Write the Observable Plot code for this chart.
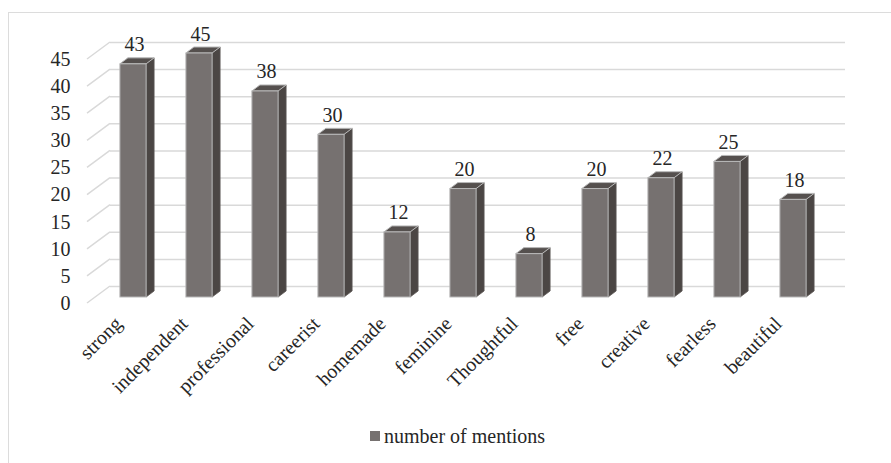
<!DOCTYPE html>
<html><head><meta charset="utf-8">
<script src="https://cdn.jsdelivr.net/npm/d3@7"></script>
<script src="https://cdn.jsdelivr.net/npm/@observablehq/plot@0.6"></script>
<style>
body{margin:0;background:#fff;width:891px;height:463px;overflow:hidden;position:relative;font-family:"Liberation Serif","DejaVu Serif",serif;}
#frame{position:absolute;left:8px;top:12px;width:1000px;height:1000px;border-left:1.5px solid #dcdcdc;border-top:1.5px solid #dcdcdc;}
#chart{position:absolute;left:0;top:0;}
#legend{position:absolute;left:370px;top:425px;font-size:20px;color:#262626;display:flex;align-items:center;line-height:22px;}
#legend .sw{display:inline-block;width:10px;height:10px;background:#767170;margin-right:4px;}
</style></head><body>
<div id="frame"></div>
<div id="chart"></div>
<div id="legend"><span class="sw"></span><span>number of mentions</span></div>
<script>
const categories = ["strong","independent","professional","careerist","homemade","feminine","Thoughtful","free","creative","fearless","beautiful"];
const mentions = [43,45,38,30,12,20,8,20,22,25,18];
const yTicks = [0,5,10,15,20,25,30,35,40,45];
const seriesName = "number of mentions";

const FONT = '"Liberation Serif","DejaVu Serif",serif';
const data = categories.map((c,i)=>({c, v: mentions[i]}));
const INSET = 19.9;
const DEPTH = [8,-6];
const FRONT = [-8,6];
const BACK = [15,-11];
const grid = "#d9d9d9";

function wallDiagonals(index, scales, values, dims) {
  const g = d3.create("svg:g");
  const y = scales.y;
  const xl = dims.marginLeft;
  for (const t of yTicks) {
    g.append("line")
      .attr("x1", xl + FRONT[0]).attr("y1", y(t) + FRONT[1])
      .attr("x2", xl + BACK[0]).attr("y2", y(t) + BACK[1])
      .attr("stroke", grid).attr("stroke-width", 1.5);
  }
  return g.node();
}

function barDepth(index, scales, values, dims) {
  const g = d3.create("svg:g");
  const x = scales.x, y = scales.y;
  const bw = x.bandwidth ? x.bandwidth() : (dims.width - dims.marginLeft - dims.marginRight)/categories.length;
  const [dx, dy] = DEPTH;
  data.forEach(d => {
    const x0 = x(d.c) + INSET, x1 = x(d.c) + bw - INSET;
    const yv = y(d.v), y0 = y(0);
    g.append("polygon")
      .attr("points", [[x1,yv],[x1+dx,yv+dy],[x1+dx,y0+dy],[x1,y0]].map(p=>p.join(",")).join(" "))
      .attr("fill", "#4b4644").attr("stroke", "#5e5957").attr("stroke-width", 0.8);
    g.append("polygon")
      .attr("points", [[x0,yv],[x0+dx,yv+dy],[x1+dx,yv+dy],[x1,yv]].map(p=>p.join(",")).join(" "))
      .attr("fill", "#55504e").attr("stroke", "#b8b8b8").attr("stroke-width", 1);
  });
  return g.node();
}

const plot = Plot.plot({
  width: 891,
  height: 400,
  marginTop: 53,
  marginBottom: 103,
  marginLeft: 95,
  marginRight: 61,
  style: {fontFamily: FONT, fontSize: "20px", color: "#262626", background: "transparent"},
  x: {domain: categories, padding: 0, label: null},
  y: {domain: [0, 45], label: null},
  marks: [
    Plot.ruleY(yTicks, {dx: BACK[0], dy: BACK[1], stroke: grid, strokeWidth: 1.5}),
    wallDiagonals,
    barDepth,
    Plot.barY(data, {x: "c", y: "v", insetLeft: INSET, insetRight: INSET, fill: "#767170", stroke: "#b8b8b8", strokeWidth: 1}),
    Plot.text(data, {x: "c", y: "v", text: d => String(d.v), dy: -13, dx: 1, lineAnchor: "bottom", fill: "#262626", fontSize: 20, fontFamily: FONT}),
    Plot.axisY(yTicks, {tickSize: 0, tickPadding: 25, dy: 6, fontSize: 20, fontFamily: FONT, fill: "#262626"}),
    Plot.axisX({tickSize: 0, tickPadding: 18, dx: -15, dy: 5, tickRotate: -45, fontSize: 20, fontFamily: FONT, fill: "#262626"})
  ]
});
document.getElementById("chart").appendChild(plot);
</script>
</body></html>
